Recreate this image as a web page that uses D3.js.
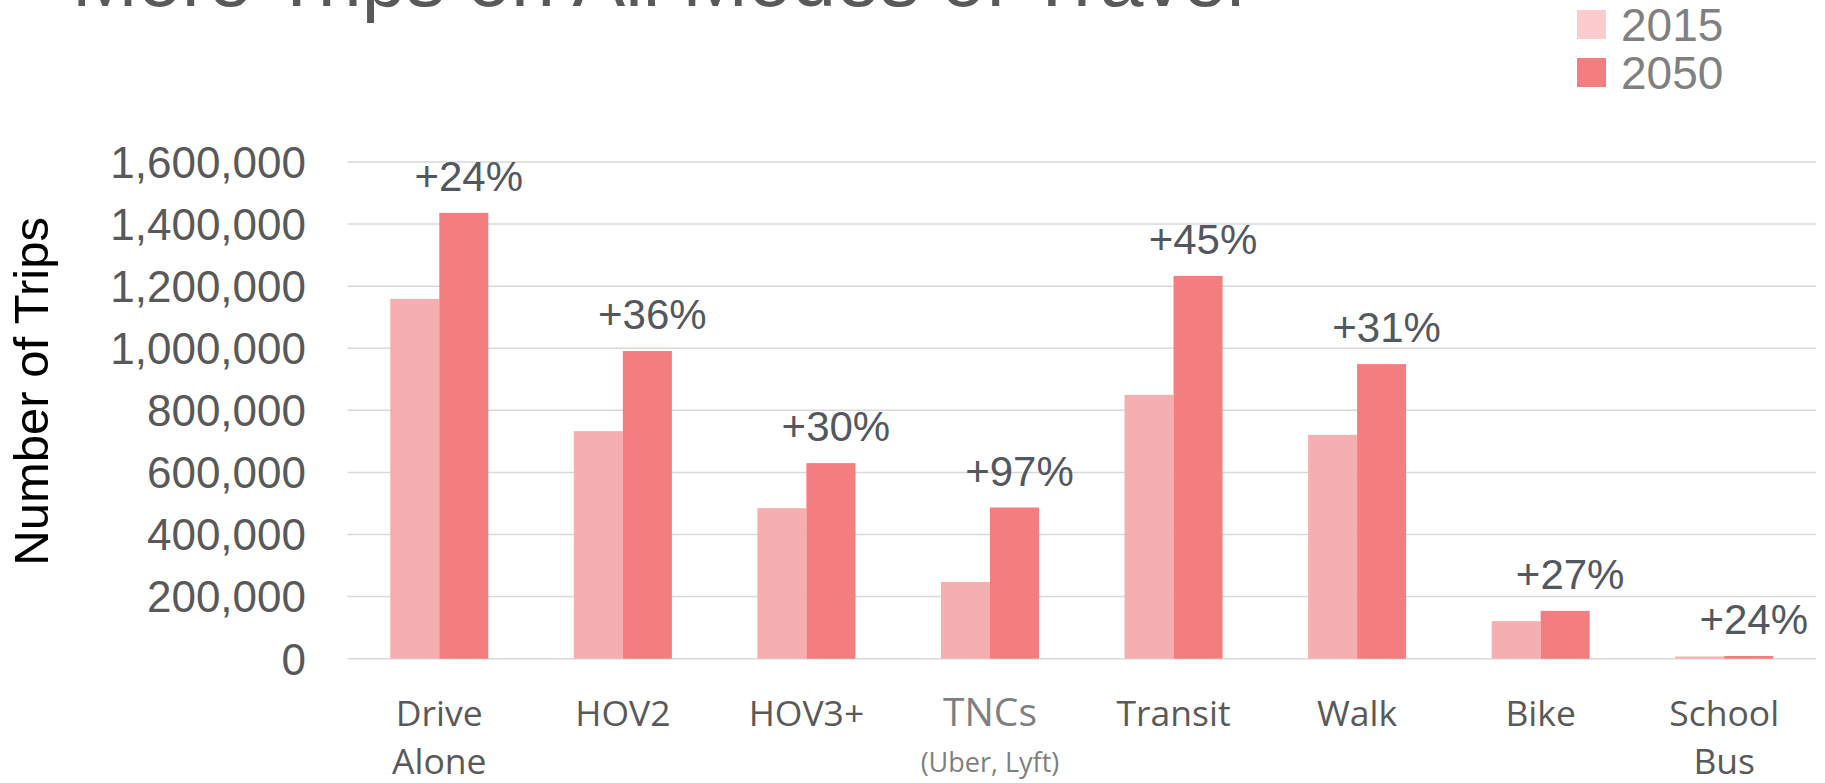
<!DOCTYPE html>
<html lang="en">
<head>
    <meta charset="UTF-8">
    <title>More Trips on All Modes of Travel</title>
    <style>
        body {
            margin: 0;
            padding: 0;
            background-color: #fff;
        }

        svg {
            display: block;
        }

        .grid line {
            stroke: #d9d9d9;
            stroke-width: 1.5px;
        }

        .tick-label {
            font-family: "Liberation Sans", Arial, sans-serif;
            font-size: 44px;
            fill: #595959;
        }

        .x-label {
            font-family: "Open Sans", sans-serif;
            font-size: 35.5px;
            fill: #595959;
        }

        .pct {
            font-family: "Liberation Sans", Arial, sans-serif;
            font-size: 42px;
            fill: #53585e;
        }
    </style>
</head>
<body>

<svg id="chart" width="1825" height="783"></svg>

<script src="https://d3js.org/d3.v7.min.js"></script>
<script>
    // data
    const categories = ["Drive Alone", "HOV2", "HOV3+", "TNCs", "Transit", "Walk", "Bike", "School Bus"];
    const xLabelLines = [["Drive", "Alone"], ["HOV2"], ["HOV3+"], ["TNCs", "(Uber, Lyft)"], ["Transit"], ["Walk"], ["Bike"], ["School", "Bus"]];
    const trips2015 = [1159000, 733000, 485000, 247000, 850000, 721000, 121000, 7000];
    const trips2050 = [1436000, 991000, 630000, 487000, 1233000, 949000, 154000, 8700];
    const growthLabels = ["+24%", "+36%", "+30%", "+97%", "+45%", "+31%", "+27%", "+24%"];
    const seriesNames = ["2015", "2050"];
    const yTicks = [0, 200000, 400000, 600000, 800000, 1000000, 1200000, 1400000, 1600000];

    const barColors = ["#f6afb1", "#f37d7f"];
    const legendColors = ["#fbcbcd", "#f37d7f"];

    const svg = d3.select("#chart");

    const plotLeft = 347.5, plotRight = 1816, plotTop = 162, plotBottom = 658.7;

    const x0 = d3.scaleBand()
        .domain(categories)
        .range([plotLeft, plotRight])
        .paddingInner(0.466)
        .paddingOuter(0.233);

    const x1 = d3.scaleBand()
        .domain(seriesNames)
        .range([0, x0.bandwidth()]);

    const y = d3.scaleLinear()
        .domain([0, 1600000])
        .range([plotBottom, plotTop]);

    // title (cut off at the top of the picture)
    svg.append("text")
        .attr("x", 72)
        .attr("y", 6)
        .style("font-family", "'Liberation Sans', Arial, sans-serif")
        .style("font-size", "79px")
        .style("fill", "#595959")
        .text("More Trips on All Modes of Travel");

    // gridlines
    svg.append("g")
        .attr("class", "grid")
        .selectAll("line")
        .data(yTicks)
        .enter().append("line")
        .attr("x1", plotLeft)
        .attr("x2", plotRight)
        .attr("y1", d => y(d))
        .attr("y2", d => y(d));

    // y tick labels
    const fmt = d3.format(",");
    svg.append("g")
        .selectAll("text")
        .data(yTicks)
        .enter().append("text")
        .attr("class", "tick-label")
        .attr("x", 306)
        .attr("y", d => y(d))
        .attr("dy", "0.36em")
        .attr("text-anchor", "end")
        .text(d => fmt(d));

    // y axis title
    svg.append("text")
        .attr("transform", "translate(48," + ((plotTop + plotBottom) / 2 - 19) + ") rotate(-90)")
        .attr("text-anchor", "middle")
        .style("font-family", "'Liberation Sans', Arial, sans-serif")
        .style("font-size", "49px")
        .style("fill", "#000")
        .text("Number of Trips");

    // bars
    const rows = categories.map((c, i) => ({ cat: c, values: [trips2015[i], trips2050[i]] }));

    const groups = svg.append("g")
        .selectAll("g")
        .data(rows)
        .enter().append("g")
        .attr("transform", d => "translate(" + x0(d.cat) + ",0)");

    groups.selectAll("rect")
        .data(d => d.values.map((v, k) => ({ key: seriesNames[k], value: v, k: k })))
        .enter().append("rect")
        .attr("x", d => x1(d.key))
        .attr("y", d => y(d.value))
        .attr("width", x1.bandwidth())
        .attr("height", d => plotBottom - y(d.value))
        .attr("fill", d => barColors[d.k]);

    // growth labels above the 2050 bars
    svg.append("g")
        .selectAll("text")
        .data(rows)
        .enter().append("text")
        .attr("class", "pct")
        .attr("x", d => x0(d.cat) + x1("2050") + x1.bandwidth() / 2 + 5)
        .attr("y", d => y(d.values[1]) - 22)
        .attr("text-anchor", "middle")
        .text((d, i) => growthLabels[i]);

    // category labels
    const xLab = svg.append("g")
        .selectAll("text")
        .data(rows)
        .enter().append("text")
        .attr("class", "x-label")
        .attr("text-anchor", "middle")
        .attr("x", d => x0(d.cat) + x0.bandwidth() / 2)
        .attr("y", 726);

    xLab.each(function (d, i) {
        const t = d3.select(this);
        xLabelLines[i].forEach((line, j) => {
            const span = t.append("tspan")
                .attr("x", x0(d.cat) + x0.bandwidth() / 2)
                .attr("y", 726 + j * 48)
                .text(line);
            if (d.cat === "TNCs") {
                span.style("fill", "#7f7f7f");
                span.style("font-size", j === 0 ? "39px" : "27px");
                if (j === 1) span.attr("y", 772);
            }
        });
    });

    // legend
    const legend = svg.append("g")
        .selectAll("g")
        .data(seriesNames)
        .enter().append("g")
        .attr("transform", (d, i) => "translate(1577," + (10 + i * 48) + ")");

    legend.append("rect")
        .attr("width", 29)
        .attr("height", 29)
        .attr("fill", (d, i) => legendColors[i]);

    legend.append("text")
        .attr("x", 44)
        .attr("y", 31)
        .style("font-family", "'Liberation Sans', Arial, sans-serif")
        .style("font-size", "46px")
        .style("fill", "#808080")
        .text(d => d);
</script>

</body>
</html>
